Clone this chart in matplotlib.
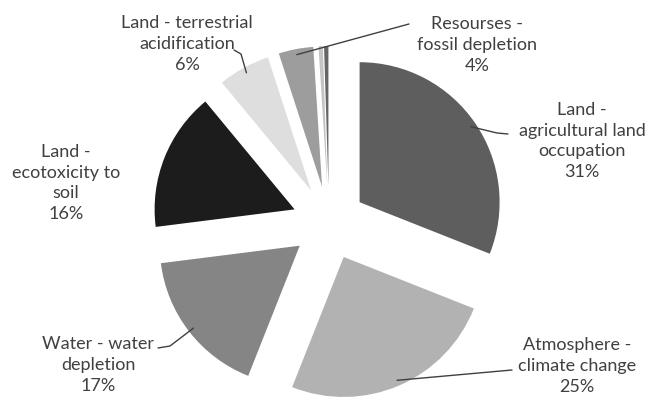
import numpy as np
import matplotlib.pyplot as plt

# impact categories, clockwise from 12 o'clock
labels = ['Land -\nagricultural land\noccupation', 'Atmosphere -\nclimate change',
          'Water - water\ndepletion', 'Land -\necotoxicity to\nsoil',
          'Land - terrestrial\nacidification', 'Resourses -\nfossil depletion', '', '']
shares = [31, 25, 17, 16, 6, 4, 0.5, 0.5]
pct_text = ['31%', '25%', '17%', '16%', '6%', '4%', '', '']
colors = ['#5e5e5e', '#b2b2b2', '#858585', '#1c1c1c', '#dedede', '#9d9d9d', '#c4c4c4', '#666666']

W, H = 654, 400
R = 140
CENTER = (329, H - 223)
EXPLODE = 37

# label centres and leader elbows, pixel coordinates measured from the top
label_pos = [(582, 141), (577, 366), (98, 365), (66, 183), (187, 44), (477, 45)]
leaders = [
    [(508, 134), (497, 133)],
    [(512, 370)],
    [(158, 348), (170, 346)],
    None,
    [(234, 50), (241, 54)],
    [(409, 24)],
]

plt.rcParams['font.family'] = ['Lato', 'DejaVu Sans']
fig = plt.figure(figsize=(W / 100, H / 100), dpi=100)
ax = fig.add_axes([0, 0, 1, 1])

wedges, _ = ax.pie(shares, colors=colors, radius=R, center=CENTER,
                   explode=[EXPLODE] * len(shares), startangle=90,
                   counterclock=False, frame=True,
                   wedgeprops=dict(linewidth=0))
ax.set_xlim(0, W)
ax.set_ylim(0, H)
ax.set_aspect('equal')
ax.axis('off')

text_color = '#404040'
for i, (x, y) in enumerate(label_pos):
    ax.text(x, H - y, labels[i] + '\n' + pct_text[i], ha='center', va='center',
            fontsize=13, color=text_color, linespacing=1.38, multialignment='center')
    if leaders[i] is None:
        continue
    w = wedges[i]
    mid = np.deg2rad((w.theta1 + w.theta2) / 2)
    ax_x = w.center[0] + 0.96 * R * np.cos(mid)
    ax_y = w.center[1] + 0.96 * R * np.sin(mid)
    pts = [(px, H - py) for px, py in leaders[i]] + [(ax_x, ax_y)]
    xs, ys = zip(*pts)
    ax.plot(xs, ys, color=text_color, linewidth=1.0, solid_capstyle='round')

fig.savefig('out.png', dpi=100, facecolor='white')
